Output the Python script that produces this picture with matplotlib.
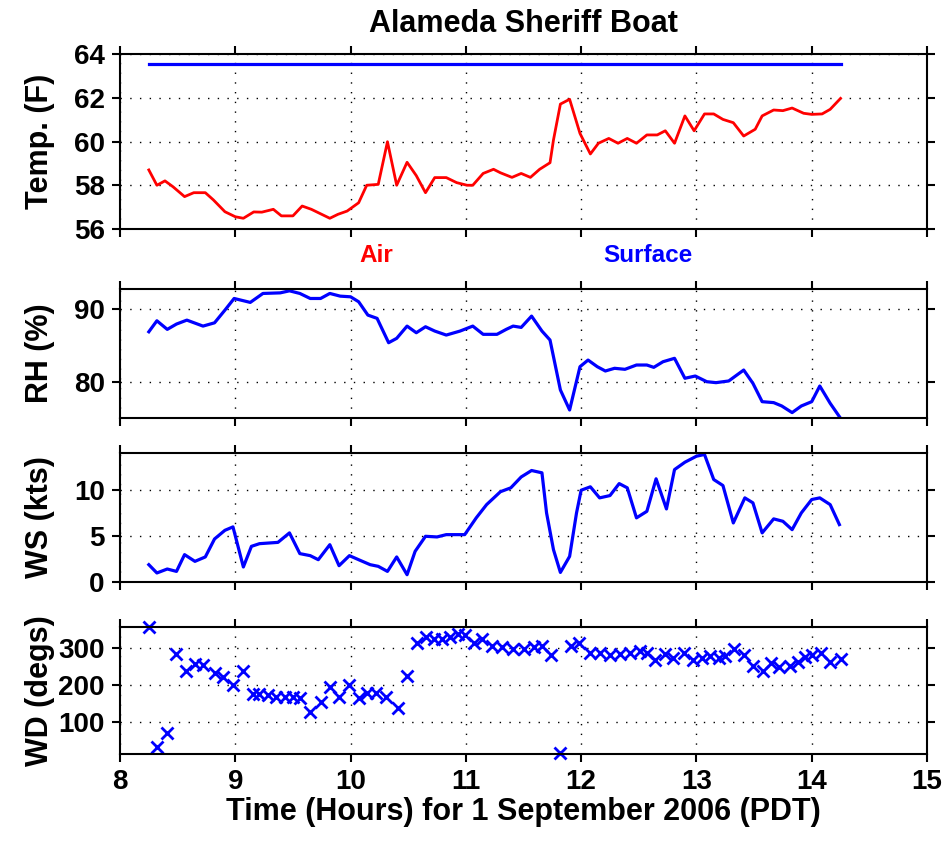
import matplotlib
matplotlib.use("Agg")
import matplotlib.pyplot as plt

plt.rcParams['font.family'] = ['Liberation Sans', 'DejaVu Sans']
plt.rcParams['font.weight'] = 'bold'
plt.rcParams['axes.labelweight'] = 'bold'
plt.rcParams['axes.titleweight'] = 'bold'

# air temperature (F)
temp_t = [8.25, 8.32, 8.39, 8.46, 8.56, 8.64, 8.74, 8.81, 8.91, 9.00, 9.07, 9.16, 9.23,
          9.33, 9.40, 9.50, 9.58, 9.66, 9.82, 9.89, 9.97, 10.07, 10.14, 10.24, 10.32,
          10.40, 10.49, 10.57, 10.65, 10.73, 10.83, 10.92, 11.01, 11.06, 11.15, 11.24,
          11.30, 11.40, 11.48, 11.56, 11.64, 11.73, 11.76, 11.82, 11.90, 11.99, 12.08,
          12.15, 12.24, 12.32, 12.40, 12.48, 12.57, 12.66, 12.73, 12.81, 12.90, 12.98,
          13.07, 13.15, 13.23, 13.32, 13.41, 13.51, 13.57, 13.67, 13.75, 13.83, 13.93,
          14.00, 14.09, 14.16, 14.25]
temp_f = [58.7, 58.0, 58.2, 57.93, 57.48, 57.66, 57.66, 57.33, 56.79, 56.56, 56.49, 56.78,
          56.77, 56.9, 56.6, 56.6, 57.05, 56.9, 56.49, 56.67, 56.82, 57.2, 58.0, 58.04,
          59.99, 58.0, 59.05, 58.44, 57.66, 58.35, 58.35, 58.12, 58.0, 58.0, 58.54, 58.73,
          58.57, 58.36, 58.54, 58.36, 58.73, 59.03, 60.07, 61.71, 61.93, 60.37, 59.43,
          59.92, 60.14, 59.92, 60.14, 59.92, 60.3, 60.3, 60.49, 59.92, 61.17, 60.49,
          61.26, 61.26, 61.01, 60.86, 60.25, 60.56, 61.17, 61.44, 61.41, 61.53, 61.29,
          61.24, 61.26, 61.47, 61.97]

# surface (water) temperature
surf_t = [8.25, 14.25]
surf_f = [63.55, 63.55]

# relative humidity (%)
rh_t = [8.25, 8.32, 8.41, 8.49, 8.58, 8.72, 8.82, 8.91, 8.99, 9.13, 9.24, 9.39, 9.47,
        9.56, 9.65, 9.74, 9.82, 9.91, 10.00, 10.07, 10.15, 10.23, 10.33, 10.40, 10.49,
        10.57, 10.65, 10.73, 10.83, 10.95, 11.06, 11.15, 11.27, 11.35, 11.41, 11.48,
        11.57, 11.66, 11.73, 11.82, 11.90, 11.99, 12.06, 12.14, 12.21, 12.29, 12.38,
        12.48, 12.57, 12.63, 12.71, 12.81, 12.90, 12.99, 13.09, 13.17, 13.28, 13.41,
        13.49, 13.57, 13.67, 13.74, 13.83, 13.91, 14.00, 14.07, 14.16, 14.24]
rh = [86.93, 88.44, 87.26, 87.99, 88.53, 87.71, 88.16, 89.9, 91.5, 90.96, 92.19, 92.27,
      92.55, 92.19, 91.5, 91.5, 92.19, 91.82, 91.73, 91.05, 89.22, 88.77, 85.43, 86.03,
      87.71, 86.8, 87.62, 87.03, 86.48, 87.03, 87.71, 86.58, 86.58, 87.26, 87.71, 87.53,
      89.08, 87.03, 85.8, 78.95, 76.2, 82.14, 83.05, 82.14, 81.55, 81.92, 81.78, 82.37,
      82.37, 82.05, 82.82, 83.29, 80.55, 80.86, 80.08, 79.95, 80.18, 81.68, 79.86,
      77.34, 77.21, 76.75, 75.84, 76.75, 77.34, 79.49, 77.12, 75.29]

# wind speed (kts)
ws_t = [8.25, 8.32, 8.41, 8.49, 8.56, 8.65, 8.74, 8.82, 8.91, 8.98, 9.07, 9.14, 9.21,
        9.37, 9.47, 9.56, 9.65, 9.72, 9.82, 9.90, 9.99, 10.07, 10.17, 10.24, 10.32,
        10.40, 10.49, 10.56, 10.65, 10.75, 10.83, 10.99, 11.09, 11.18, 11.30, 11.39,
        11.48, 11.57, 11.66, 11.70, 11.76, 11.82, 11.90, 11.96, 12.00, 12.08, 12.16,
        12.25, 12.33, 12.40, 12.48, 12.57, 12.65, 12.74, 12.81, 12.90, 13.00, 13.07,
        13.15, 13.23, 13.32, 13.42, 13.49, 13.57, 13.67, 13.75, 13.83, 13.91, 14.00,
        14.07, 14.16, 14.24]
ws = [1.88, 0.98, 1.41, 1.15, 2.97, 2.24, 2.72, 4.67, 5.61, 5.98, 1.63, 3.87, 4.16, 4.30,
      5.33, 3.08, 2.86, 2.42, 4.05, 1.77, 2.86, 2.42, 1.88, 1.70, 1.15, 2.72, 0.79, 3.33,
      4.96, 4.89, 5.14, 5.14, 6.96, 8.40, 9.8, 10.22, 11.4, 12.1, 11.85, 7.5, 3.51, 1.04,
      2.78, 7.5, 9.96, 10.33, 9.13, 9.38, 10.68, 10.22, 6.96, 7.67, 11.2, 7.93, 12.2,
      13.0, 13.65, 13.84, 11.12, 10.47, 6.41, 9.13, 8.59, 5.33, 6.85, 6.59, 5.68, 7.5,
      8.95, 9.13, 8.4, 6.23]

# wind direction (degs)
wd_t = [8.25, 8.32, 8.41, 8.49, 8.57, 8.65, 8.72, 8.82, 8.89, 8.98, 9.07, 9.15, 9.21,
        9.28, 9.35, 9.43, 9.50, 9.56, 9.65, 9.74, 9.82, 9.90, 9.99, 10.07, 10.14, 10.22,
        10.31, 10.41, 10.49, 10.58, 10.65, 10.72, 10.79, 10.86, 10.93, 10.99, 11.07,
        11.14, 11.23, 11.31, 11.41, 11.50, 11.59, 11.66, 11.74, 11.82, 11.91, 11.98,
        12.08, 12.16, 12.25, 12.34, 12.42, 12.51, 12.57, 12.64, 12.73, 12.80, 12.89,
        12.97, 13.05, 13.12, 13.20, 13.25, 13.33, 13.41, 13.49, 13.58, 13.65, 13.72,
        13.81, 13.88, 13.94, 14.00, 14.08, 14.16, 14.25]
wd = [355, 35, 71, 282, 237, 257, 253, 231, 220, 199, 238, 175, 175, 172, 168, 168, 168,
      164, 127, 155, 195, 168, 199, 166, 177, 177, 168, 137, 223, 312, 328, 322, 324,
      327, 335, 333, 312, 323, 305, 301, 297, 297, 302, 303, 281, 17, 303, 311, 286, 286,
      281, 284, 286, 291, 286, 266, 284, 273, 286, 266, 273, 277, 273, 277, 297, 279,
      250, 237, 259, 248, 250, 262, 275, 279, 286, 262, 268]

W = 946
H = 841
fig = plt.figure(figsize=(W / 100, H / 100), dpi=100)

# axes boxes measured in pixels: (top, bottom)
left, right = 120, 927
boxes = [(54, 229), (289, 418), (453, 582), (627, 754)]
axes = []
for top, bottom in boxes:
    ax = fig.add_axes([left / W, 1 - bottom / H, (right - left) / W, (bottom - top) / H])
    axes.append(ax)

ax1, ax2, ax3, ax4 = axes

ax1.plot(temp_t, temp_f, color='#ff0000', lw=2.0)
ax1.plot(surf_t, surf_f, color='#0000ff', lw=2.3)
ax1.set_ylim(56, 64)
ax1.set_yticks([56, 58, 60, 62, 64])
ax1.set_ylabel("Temp. (F)")
ax1.set_title("Alameda Sheriff Boat", fontsize=22, pad=16)
ax1.text(10.22, 54.5, "Air", color='#ff0000', fontsize=17.5, ha='center', va='baseline',
         clip_on=False)
ax1.text(12.58, 54.5, "Surface", color='#0000ff', fontsize=17.5, ha='center',
         va='baseline', clip_on=False)

ax2.plot(rh_t, rh, color='#0000ff', lw=2.3)
ax2.set_ylim(75.1, 92.8)
ax2.set_yticks([80, 90])
ax2.set_ylabel("RH (%)")

ax3.plot(ws_t, ws, color='#0000ff', lw=2.3)
ax3.set_ylim(0, 14)
ax3.set_yticks([0, 5, 10])
ax3.set_ylabel("WS (kts)")

ax4.plot(wd_t, wd, 'x', color='#0000ff', ms=9, mew=2.0, clip_on=False)
ax4.set_ylim(15, 355)
ax4.set_yticks([100, 200, 300])
ax4.set_ylabel("WD (degs)")
ax4.set_xlabel("Time (Hours) for 1 September 2006 (PDT)", fontsize=22, labelpad=1)

for ax in axes:
    ax.set_xlim(8, 15)
    ax.set_xticks(range(8, 16))
    ax.tick_params(direction='out', length=6, width=1.5, top=True, right=True,
                   labelsize=20, pad=5)
    ax.grid(True, color='black', linestyle=(0, (1, 6)), linewidth=1)
    for s in ax.spines.values():
        s.set_linewidth(1.5)
    ax.yaxis.label.set_fontsize(22)
    ax.yaxis.set_label_coords(-0.08, 0.5)
    if ax is not ax4:
        ax.tick_params(labelbottom=False)

fig.savefig("out.png", dpi=100)
